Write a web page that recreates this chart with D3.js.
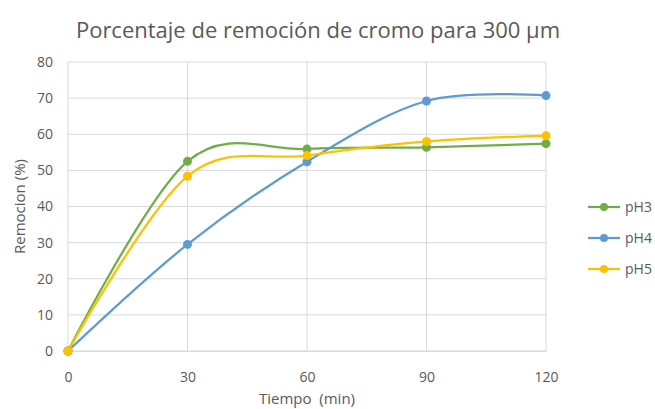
<!DOCTYPE html>
<html>
<head>
<meta charset="utf-8">
<script src="https://cdn.jsdelivr.net/npm/d3@7"></script>
<style>
  body { margin: 0; background: #fff; }
  text { font-family: "Open Sans", sans-serif; fill: #595959; }
</style>
</head>
<body>
<svg id="chart"></svg>
<script>
// data
const times = [0, 30, 60, 90, 120];
const pH3 = [0, 52.5, 55.9, 56.4, 57.4];
const pH4 = [0, 29.5, 52.4, 69.2, 70.7];
const pH5 = [0, 48.4, 54.1, 58.0, 59.6];
const seriesNames = ["pH3", "pH4", "pH5"];
const seriesColors = ["#70AD47", "#5B9BD5", "#FFC000"];
const xTicks = [0, 30, 60, 90, 120];
const yTicks = [0, 10, 20, 30, 40, 50, 60, 70, 80];

const width = 655, height = 409;
const margin = { top: 62, right: 109, bottom: 58, left: 68 };

const svg = d3.select("#chart")
    .attr("width", width)
    .attr("height", height);

const x = d3.scaleLinear()
    .domain([0, 120])
    .range([margin.left, width - margin.right]);

const y = d3.scaleLinear()
    .domain([0, 80])
    .range([height - margin.bottom, margin.top]);

// gridlines
svg.append("g")
    .selectAll("line")
    .data(yTicks)
    .join("line")
    .attr("x1", x(0)).attr("x2", x(120))
    .attr("y1", d => y(d)).attr("y2", d => y(d))
    .attr("stroke", "#d9d9d9").attr("stroke-width", 1);

svg.append("g")
    .selectAll("line")
    .data(xTicks)
    .join("line")
    .attr("x1", d => x(d)).attr("x2", d => x(d))
    .attr("y1", y(0)).attr("y2", y(80))
    .attr("stroke", "#d9d9d9").attr("stroke-width", 1);

// axes
const xAxis = svg.append("g")
    .attr("transform", `translate(0,${y(0)})`)
    .call(d3.axisBottom(x).tickValues(xTicks).tickSize(0).tickPadding(21));
xAxis.select(".domain").attr("stroke", "#d9d9d9");
xAxis.selectAll("text").style("font-size", "14px").attr("fill", "#595959");

const yAxis = svg.append("g")
    .attr("transform", `translate(${x(0)},0)`)
    .call(d3.axisLeft(y).tickValues(yTicks).tickSize(0).tickPadding(15));
yAxis.select(".domain").remove();
yAxis.selectAll("text").style("font-size", "14px").attr("fill", "#595959");

// lines
const series = [pH3, pH4, pH5];
const line = d3.line()
    .x((d, i) => x(times[i]))
    .y(d => y(d))
    .curve(d3.curveCatmullRom.alpha(0));

series.forEach((vals, k) => {
    svg.append("path")
        .datum(vals)
        .attr("fill", "none")
        .attr("stroke", seriesColors[k])
        .attr("stroke-width", 2.25)
        .attr("d", line);
});

series.forEach((vals, k) => {
    svg.append("g")
        .selectAll("circle")
        .data(vals)
        .join("circle")
        .attr("cx", (d, i) => x(times[i]))
        .attr("cy", d => y(d))
        .attr("r", 4.5)
        .attr("fill", seriesColors[k]);
});

// legend
const legend = svg.append("g");
seriesNames.forEach((name, k) => {
    const ly = 207 + k * 31;
    legend.append("line")
        .attr("x1", 588).attr("x2", 620)
        .attr("y1", ly).attr("y2", ly)
        .attr("stroke", seriesColors[k]).attr("stroke-width", 2.25);
    legend.append("circle")
        .attr("cx", 604).attr("cy", ly).attr("r", 4)
        .attr("fill", seriesColors[k]);
    legend.append("text")
        .attr("x", 625).attr("y", ly)
        .attr("dy", "0.35em")
        .style("font-size", "14px")
        .text(name);
});

// titles
svg.append("text")
    .attr("x", 318)
    .attr("y", 38)
    .attr("text-anchor", "middle")
    .style("font-size", "22px")
    .text("Porcentaje de remoción de cromo para 300 µm");

svg.append("text")
    .attr("x", x(60))
    .attr("y", 404)
    .attr("text-anchor", "middle")
    .style("font-size", "15px")
    .attr("xml:space", "preserve")
    .text("Tiempo  (min)");

svg.append("text")
    .attr("transform", `translate(25,${y(40)}) rotate(-90)`)
    .attr("text-anchor", "middle")
    .style("font-size", "15px")
    .text("Remocion (%)");
</script>
</body>
</html>
